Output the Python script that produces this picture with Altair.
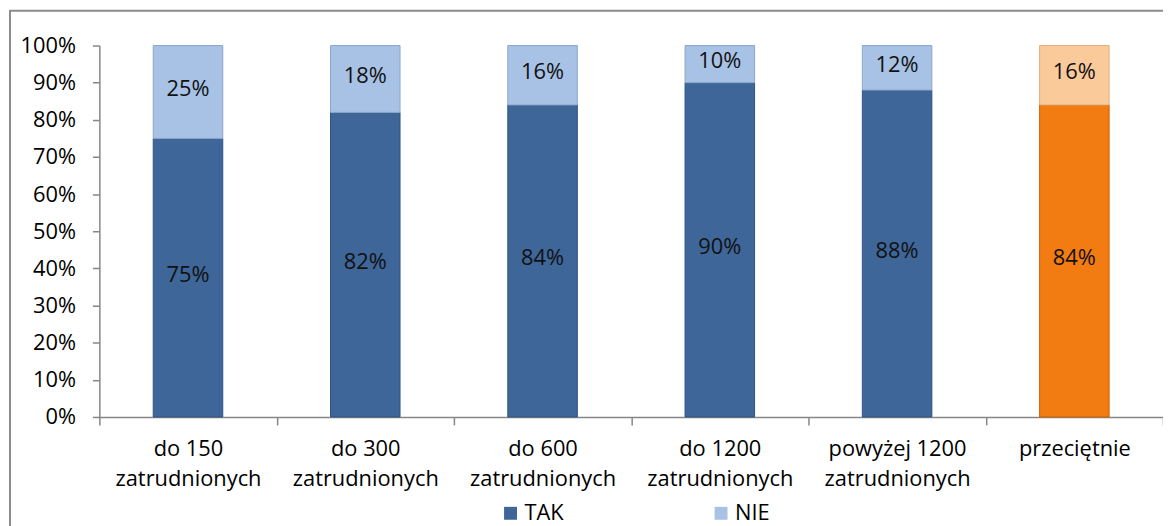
import altair as alt
import pandas as pd

categories = ["do 150\nzatrudnionych", "do 300\nzatrudnionych", "do 600\nzatrudnionych",
              "do 1200\nzatrudnionych", "powyżej 1200\nzatrudnionych", "przeciętnie"]
tak = [0.75, 0.82, 0.84, 0.90, 0.88, 0.84]
nie = [0.25, 0.18, 0.16, 0.10, 0.12, 0.16]
y_ticks = [i / 10 for i in range(11)]

rows = []
for i, c in enumerate(categories):
    avg = c == "przeciętnie"
    rows.append({"kat": c, "seria": "TAK (p)" if avg else "TAK", "ord": 0, "val": tak[i]})
    rows.append({"kat": c, "seria": "NIE (p)" if avg else "NIE", "ord": 1, "val": nie[i]})
df = pd.DataFrame(rows)

W, H = 1071, 374
FONT = "Open Sans"
FS = 22

col_domain = ["TAK", "NIE", "TAK (p)", "NIE (p)"]
col_range = ["#3E6699", "#A7C2E5", "#F27B12", "#FBCA9B"]
stroke_range = ["#2F5483", "#8AA6CB", "#C9620A", "#E0AE80"]

base = alt.Chart(df).transform_stack(
    stack="val", groupby=["kat"], as_=["y0", "y1"], sort=[alt.SortField("ord")]
).transform_calculate(mid="(datum.y0 + datum.y1) / 2")

x_axis = alt.Axis(labelAngle=0, tickBand="extent", tickSize=8,
                  labelExpr="split(datum.label, '\\n')",
                  labelLineHeight=30, labelPadding=14,
                  labelFontSize=FS, labelFont=FONT, labelColor="#000",
                  domainColor="#868686", tickColor="#868686",
                  domainWidth=1.5, tickWidth=1.5)
y_axis = alt.Axis(values=y_ticks, format=".0%", grid=False, tickSize=7,
                  labelPadding=17, labelFontSize=FS, labelFont=FONT,
                  labelColor="#000", domainColor="#868686",
                  tickColor="#868686", domainWidth=1.5, tickWidth=1.5)
x_scale = alt.Scale(paddingInner=0, paddingOuter=0)
y_scale = alt.Scale(domain=[0, 1], nice=False)

bars = base.mark_bar(width=70, strokeWidth=1).encode(
    x=alt.X("kat:N", sort=categories, title=None, scale=x_scale, axis=x_axis),
    y=alt.Y("y0:Q", scale=y_scale, title=None, axis=y_axis),
    y2="y1:Q",
    color=alt.Color("seria:N", scale=alt.Scale(domain=col_domain, range=col_range),
                    title=None,
                    legend=alt.Legend(values=["TAK", "NIE"], orient="none",
                                      legendX=403, legendY=460,
                                      direction="horizontal", padding=0,
                                      symbolType="square", symbolSize=169,
                                      symbolStrokeWidth=0, labelFontSize=FS,
                                      labelFont=FONT, labelColor="#000",
                                      labelOffset=3, columnPadding=147)),
    stroke=alt.Stroke("seria:N", scale=alt.Scale(domain=col_domain, range=stroke_range),
                      legend=None),
)

labels = base.mark_text(fontSize=FS, font=FONT, color="#111", dy=-3).encode(
    x=alt.X("kat:N", sort=categories, title=None, scale=x_scale, axis=x_axis),
    y=alt.Y("mid:Q", scale=y_scale, title=None, axis=y_axis),
    text=alt.Text("val:Q", format=".0%"),
)

frame = alt.Chart(alt.Data(values=[{}])).mark_rect(
    filled=False, stroke="#8C8C8C", strokeWidth=2
).encode(
    x=alt.value(-90), x2=alt.value(W + 100),
    y=alt.value(-35), y2=alt.value(H + 200),
)

chart = alt.layer(bars, labels, frame).properties(
    width=W, height=H,
    autosize=alt.AutoSizeParams(type="none"),
    padding={"left": 92, "top": 36, "right": 0, "bottom": 108},
).configure(background="white", view=alt.ViewConfig(stroke=None))

chart.save("out.html", embed_options={"renderer": "svg", "actions": False})
